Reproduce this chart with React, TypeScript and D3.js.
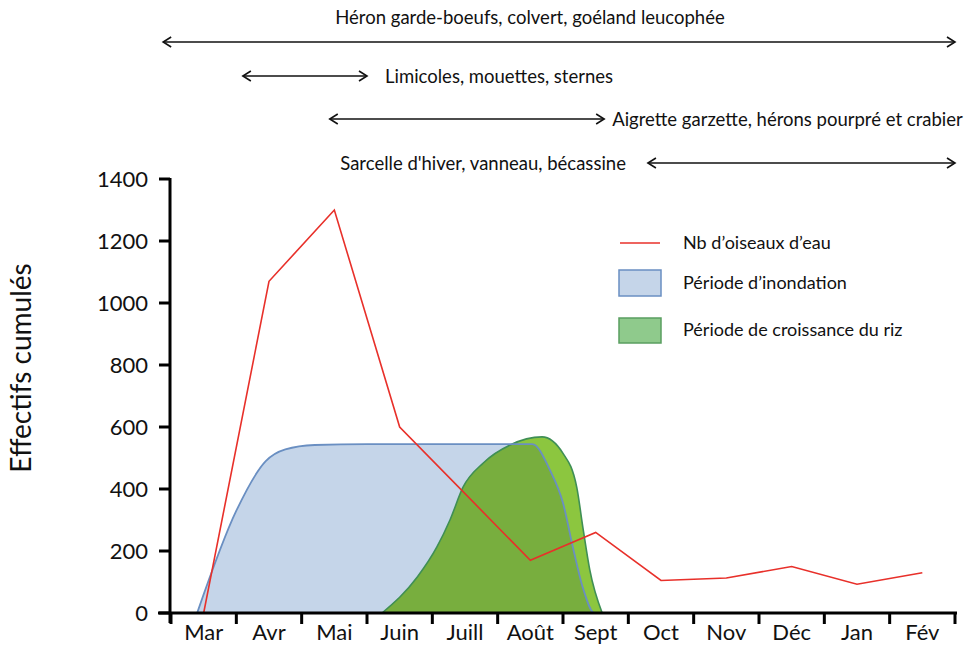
import * as d3 from 'd3';

const months = ['Mar', 'Avr', 'Mai', 'Juin', 'Juill', 'Août', 'Sept', 'Oct', 'Nov', 'Déc', 'Jan', 'Fév'];
const yTicks = [0, 200, 400, 600, 800, 1000, 1200, 1400];

// Nb d'oiseaux d'eau, one value per month (mid-month)
const birdCounts = [0, 1070, 1300, 600, 385, 170, 260, 105, 113, 150, 93, 130];

// Période d'inondation: position in months from 1 March, cumulated level
const floodT = [0.4, 1.0, 1.45, 1.75, 2.2, 3.0, 5.53, 5.8, 6.0, 6.15, 6.3, 6.48, 8.0, 11.05];
const floodV = [0, 330, 490, 528, 542, 545, 545, 461, 355, 213, 84, 0, 0, 0];

// Période de croissance du riz
const riceT = [3.23, 3.77, 4.07, 4.27, 4.47, 4.78, 5.19, 5.68, 6.0, 6.21, 6.31, 6.41, 6.6];
const riceV = [0, 116, 213, 300, 406, 484, 542, 568, 515, 406, 268, 139, 0];

// presence periods of species groups (months from 1 March)
const speciesLabels = [
  'Héron garde-boeufs, colvert, goéland leucophée',
  'Limicoles, mouettes, sternes',
  'Aigrette garzette, hérons pourpré et crabier',
  "Sarcelle d'hiver, vanneau, bécassine",
];
const speciesFrom = [-0.12, 1.1, 2.43, 7.3];
const speciesTo = [12, 3.0, 6.63, 12];

const W = 971;
const H = 667;
const font = 'Lato, "Open Sans", sans-serif';

export default function App() {
  const x = d3.scaleLinear().domain([0, 12]).range([171, 955]);
  const y = d3.scaleLinear().domain([0, 1400]).range([613, 179]);

  const flood = floodT.map((t, i) => [t, floodV[i]] as [number, number]);
  const rice = riceT.map((t, i) => [t, riceV[i]] as [number, number]);

  const area = d3.area<[number, number]>()
    .x(d => x(d[0]))
    .y0(y(0))
    .y1(d => y(d[1]))
    .curve(d3.curveMonotoneX);
  const top = d3.line<[number, number]>()
    .x(d => x(d[0]))
    .y(d => y(d[1]))
    .curve(d3.curveMonotoneX);

  const birdLine = d3.line<number>()
    .x((_, i) => x(i + 0.5))
    .y(d => y(d));

  const floodArea = area(flood) || '';
  const riceArea = area(rice) || '';

  // label placement for each species row
  const rowY = [42, 76, 119, 163];
  const arrow = (x1: number, x2: number, yy: number, key: number) => (
    <g key={key} stroke="#111" strokeWidth={1.6} fill="none">
      <line x1={x1} x2={x2} y1={yy} y2={yy} />
      <path d={`M${x1 + 8},${yy - 5} L${x1},${yy} L${x1 + 8},${yy + 5}`} />
      <path d={`M${x2 - 8},${yy - 5} L${x2},${yy} L${x2 - 8},${yy + 5}`} />
    </g>
  );

  return (
    <svg width={W} height={H} style={{ position: 'absolute', left: 0, top: 0, background: '#fff' }} fontFamily={font}>
      <defs>
        <clipPath id="floodClip">
          <path d={floodArea} />
        </clipPath>
      </defs>

      {/* species presence */}
      {speciesLabels.map((lab, i) => arrow(x(speciesFrom[i]), x(speciesTo[i]), rowY[i], i))}
      <text x={530} y={24} fontSize={18.5} textAnchor="middle" fill="#111">{speciesLabels[0]}</text>
      <text x={x(speciesTo[1]) + 18} y={83} fontSize={18.5} fill="#111">{speciesLabels[1]}</text>
      <text x={x(speciesTo[2]) + 8} y={126} fontSize={18.5} fill="#111">{speciesLabels[2]}</text>
      <text x={x(speciesFrom[3]) - 22} y={170} fontSize={18.5} textAnchor="end" fill="#111">{speciesLabels[3]}</text>

      {/* areas */}
      <path d={floodArea} fill="#c5d5e9" />
      <path d={riceArea} fill="#8cc63f" />
      <path d={riceArea} fill="#78ae3e" clipPath="url(#floodClip)" />
      <path d={riceArea} fill="none" stroke="#3f8f55" strokeWidth={1.6} />
      <path d={top(flood) || ''} fill="none" stroke="#6a8fc2" strokeWidth={1.8} />

      {/* bird counts */}
      <path d={birdLine(birdCounts) || ''} fill="none" stroke="#e8302a" strokeWidth={1.6} />

      {/* y axis */}
      <line x1={170} x2={170} y1={y(1400) - 1} y2={y(0) + 10} stroke="#000" strokeWidth={3} />
      {yTicks.map(t => (
        <g key={t}>
          <line x1={159} x2={170} y1={y(t)} y2={y(t)} stroke="#000" strokeWidth={3} />
          <text x={148} y={y(t)} dy="0.36em" textAnchor="end" fontSize={22} fill="#111">{t}</text>
        </g>
      ))}
      <text transform={`translate(31,${368}) rotate(-90)`} textAnchor="middle" fontSize={28} fill="#111">Effectifs cumulés</text>

      {/* x axis */}
      <line x1={158} x2={957} y1={y(0)} y2={y(0)} stroke="#000" strokeWidth={3} />
      {d3.range(13).map(i => (
        <line key={i} x1={x(i)} x2={x(i)} y1={y(0)} y2={y(0) + 11} stroke="#000" strokeWidth={3} />
      ))}
      {months.map((m, i) => (
        <text key={m} x={x(i + 0.5)} y={640} textAnchor="middle" fontSize={22} fill="#111">{m}</text>
      ))}

      {/* legend */}
      <line x1={620} x2={660} y1={243} y2={243} stroke="#e8302a" strokeWidth={1.5} />
      <text x={683} y={243} dy="0.35em" fontSize={18} fill="#111">Nb d’oiseaux d’eau</text>
      <rect x={619} y={270} width={42} height={26} fill="#c5d5e9" stroke="#6a8fc2" strokeWidth={1.5} />
      <text x={683} y={283} dy="0.35em" fontSize={18} fill="#111">Période d’inondation</text>
      <rect x={619} y={318} width={42} height={25} fill="#8fca8c" stroke="#5a9e60" strokeWidth={1.5} />
      <text x={683} y={330} dy="0.35em" fontSize={18} fill="#111">Période de croissance du riz</text>
    </svg>
  );
}
